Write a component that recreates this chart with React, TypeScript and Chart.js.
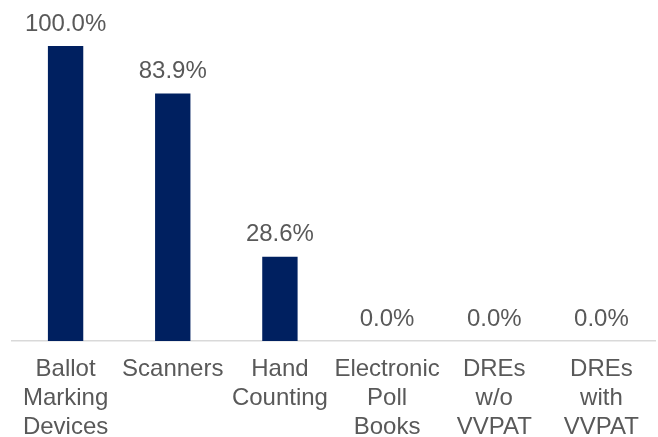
import React, { useEffect, useRef } from "react";
import { Chart, registerables } from "chart.js";

Chart.register(...registerables);

const categories: string[][] = [
  ["Ballot", "Marking", "Devices"],
  ["Scanners"],
  ["Hand", "Counting"],
  ["Electronic", "Poll", "Books"],
  ["DREs", "w/o", "VVPAT"],
  ["DREs", "with", "VVPAT"],
];
const values: number[] = [1.0, 0.839, 0.286, 0, 0, 0];

const FONT = "'Liberation Sans', Arial, sans-serif";
const TEXT = "#595959";
const BAR = "#002060";

const labelPlugin = {
  id: "valueLabels",
  afterDatasetsDraw(chart: any) {
    const ctx = chart.ctx;
    const meta = chart.getDatasetMeta(0);
    ctx.save();
    ctx.font = `24px ${FONT}`;
    ctx.fillStyle = TEXT;
    ctx.textAlign = "center";
    ctx.textBaseline = "alphabetic";
    meta.data.forEach((bar: any, i: number) => {
      const v = values[i];
      ctx.fillText((v * 100).toFixed(1) + "%", bar.x, bar.y - 15.5);
    });
    ctx.restore();
  },
};

export default function App() {
  const ref = useRef<HTMLCanvasElement>(null);
  useEffect(() => {
    document.body.style.margin = "0";
    const chart = new Chart(ref.current!, {
      type: "bar",
      data: {
        labels: categories,
        datasets: [
          {
            data: values,
            backgroundColor: BAR,
            categoryPercentage: 1,
            barPercentage: 0.33,
          },
        ],
      },
      options: {
        animation: false,
        responsive: false,
        devicePixelRatio: 1,
        layout: { padding: { top: 46, left: 12, right: 3, bottom: 0 } },
        plugins: { legend: { display: false }, tooltip: { enabled: false } },
        scales: {
          x: {
            grid: { display: false },
            border: { color: "#d9d9d9", width: 1.5 },
            ticks: {
              color: TEXT,
              font: { family: FONT, size: 24, lineHeight: 1.2 },
              padding: 6,
              maxRotation: 0,
              autoSkip: false,
            },
            afterFit(scale: any) {
              scale.height = 96;
            },
          },
          y: { display: false, min: 0, max: 1 },
        },
      },
      plugins: [labelPlugin],
    });
    return () => chart.destroy();
  }, []);
  return (
    <div style={{ width: 658, height: 437 }}>
      <canvas ref={ref} width={658} height={437} style={{ display: "block" }} />
    </div>
  );
}
